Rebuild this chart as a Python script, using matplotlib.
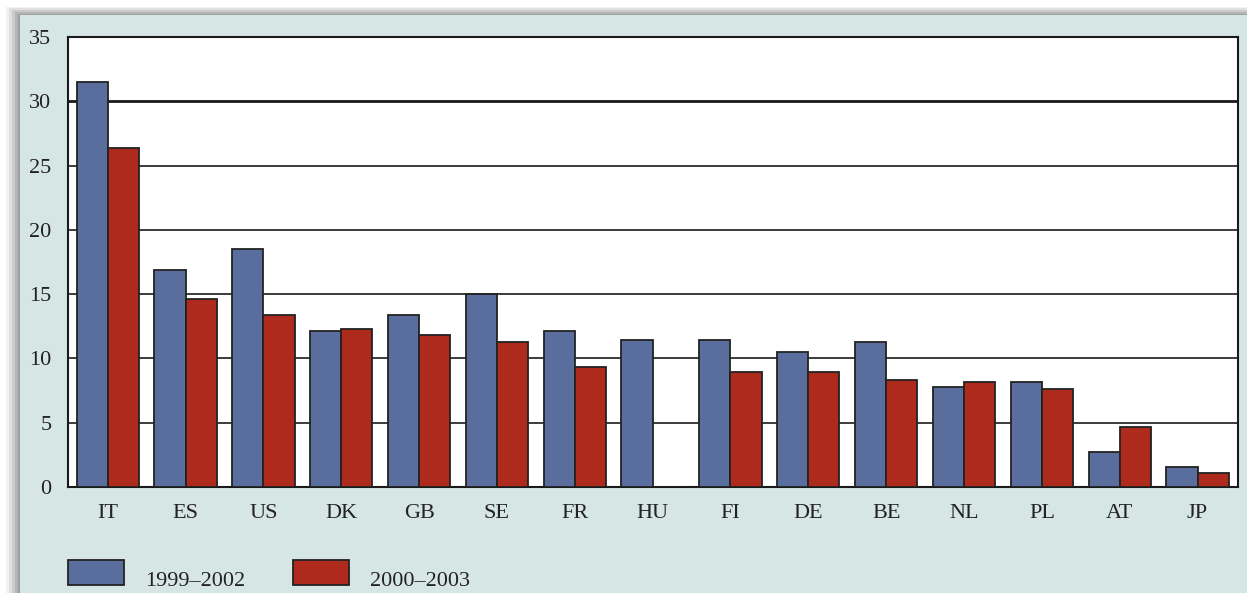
import numpy as np
import matplotlib.pyplot as plt
from matplotlib.patches import Rectangle

countries = ['IT', 'ES', 'US', 'DK', 'GB', 'SE', 'FR', 'HU', 'FI', 'DE', 'BE', 'NL', 'PL', 'AT', 'JP']
v9902 = [31.5, 16.9, 18.5, 12.1, 13.4, 15.0, 12.1, 11.4, 11.4, 10.5, 11.3, 7.8, 8.15, 2.75, 1.55]
v0003 = [26.4, 14.6, 13.4, 12.3, 11.85, 11.25, 9.3, 0, 8.95, 8.95, 8.3, 8.15, 7.65, 4.65, 1.12]
labels = ['1999\u20132002', '2000\u20132003']

blue = '#5a6e9e'
red = '#ae2a1c'
panel = '#d6e6e4'

plt.rcParams['font.family'] = ['Liberation Serif', 'DejaVu Serif']

W, H = 1247, 593
fig = plt.figure(figsize=(W/100, H/100), dpi=100, facecolor='white')

# soft shadow and panel
for k, a in enumerate([0.08, 0.12, 0.16, 0.2, 0.25]):
    off = 14 - 3*k
    fig.patches.append(Rectangle(((20-off)/W, 0), 1, (H-15+off*0.6)/H, transform=fig.transFigure,
                                 facecolor='#606060', alpha=a, edgecolor='none', zorder=0))
fig.patches.append(Rectangle((20/W, 0), 1, (H-15)/H, transform=fig.transFigure,
                             facecolor=panel, edgecolor='none', zorder=1))

ax = fig.add_axes([68/W, 1-487/H, (1238-68)/W, (487-37)/H], zorder=2)
ax.set_facecolor('white')

x = np.arange(len(countries))
w = 0.4
b1 = ax.bar(x - w/2, v9902, w, color=blue, edgecolor='#222222', linewidth=1.3, zorder=3)
b2 = ax.bar(x + w/2, v0003, w, color=red, edgecolor='#222222', linewidth=1.3, zorder=3)

ax.set_xlim(-0.51, 14.52)
ax.set_ylim(0, 35)
ax.set_yticks(range(0, 36, 5))
ax.set_xticks(x)
ax.set_xticklabels(countries)
for yv in range(5, 35, 5):
    ax.axhline(yv, color='#1a1a1a', lw=2.0 if yv == 30 else 1.2, zorder=1)
ax.tick_params(length=0, labelsize=16, colors='#222222')
ax.tick_params(axis='x', pad=12)
ax.tick_params(axis='y', pad=12)
for s in ax.spines.values():
    s.set_color('#1a1a1a')
    s.set_linewidth(1.5)

# legend below the plot
for (px, col, lab) in [(68, blue, labels[0]), (293, red, labels[1])]:
    fig.patches.append(Rectangle((px/W, 1-585/H), 56/W, 25/H, transform=fig.transFigure,
                                 facecolor=col, edgecolor='#222222', linewidth=1.3, zorder=3))
    fig.text((px+77)/W, 1-581/H, lab, fontsize=16, color='#222222', va='center', ha='left', zorder=3)

fig.savefig('out.png', dpi=100, facecolor=fig.get_facecolor())
